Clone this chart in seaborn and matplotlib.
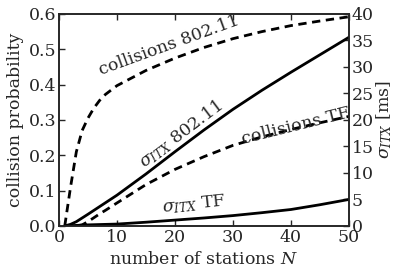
import numpy as np
import pandas as pd
import matplotlib
matplotlib.use("Agg")
import matplotlib.pyplot as plt
import seaborn as sns

# number of stations
n_coll = [1, 2, 3, 4, 5, 6, 7, 8, 10, 15, 20, 25, 30, 35, 40, 45, 50]
coll_80211 = [0.0, 0.11, 0.21, 0.27, 0.305, 0.333, 0.355, 0.372, 0.397, 0.44, 0.475, 0.505, 0.53, 0.55, 0.567, 0.58, 0.592]
coll_tf = [0.0, 0.0, 0.0, 0.003, 0.012, 0.023, 0.034, 0.044, 0.065, 0.117, 0.16, 0.196, 0.228, 0.252, 0.273, 0.292, 0.31]

n_sig = [1, 2, 3, 4, 5, 10, 15, 20, 25, 30, 35, 40, 45, 50]
sig_80211 = [0.0, 0.3, 0.8, 1.5, 2.2, 5.8, 9.8, 14.0, 18.1, 22.0, 25.6, 29.0, 32.3, 35.6]
sig_tf = [0.0, 0.05, 0.1, 0.15, 0.2, 0.35, 0.7, 1.1, 1.5, 1.95, 2.5, 3.1, 4.0, 5.0]

sns.set_style("ticks")
plt.rcParams['font.family'] = ['DejaVu Serif']
plt.rcParams['mathtext.fontset'] = 'dejavuserif'
plt.rcParams['xtick.direction'] = 'in'
plt.rcParams['ytick.direction'] = 'in'
plt.rcParams['xtick.top'] = True
fs = 12.5
plt.rcParams['font.size'] = fs

df_c = pd.DataFrame({'N': n_coll, 'c80211': coll_80211, 'ctf': coll_tf})
df_s = pd.DataFrame({'N': n_sig, 's80211': sig_80211, 'stf': sig_tf})

fig = plt.figure(figsize=(3.93, 2.68), dpi=100)
ax = fig.add_axes([0.150, 0.157, 0.738, 0.791])
ax2 = ax.twinx()

sns.lineplot(data=df_c, x='N', y='c80211', ax=ax, color='black', lw=2)
sns.lineplot(data=df_c, x='N', y='ctf', ax=ax, color='black', lw=2)
sns.lineplot(data=df_s, x='N', y='s80211', ax=ax2, color='black', lw=2)
sns.lineplot(data=df_s, x='N', y='stf', ax=ax2, color='black', lw=2)
for ln in ax.lines:
    ln.set_dashes((3, 2))

ax.set_xlim(0, 50)
ax.set_ylim(0, 0.6)
ax2.set_ylim(0, 40)
ax.set_xticks([0, 10, 20, 30, 40, 50])
ax.set_yticks(np.arange(0, 0.61, 0.1))
ax2.set_yticks(np.arange(0, 41, 5))
ax.set_yticklabels(['0.0', '0.1', '0.2', '0.3', '0.4', '0.5', '0.6'])

ax.set_xlabel('number of stations $N$', fontsize=fs, labelpad=4)
ax.set_ylabel('collision probability', fontsize=fs, labelpad=3)
ax2.set_ylabel(r'$\sigma_{ITX}$ [ms]', fontsize=fs, labelpad=0)

for a in (ax, ax2):
    a.tick_params(direction='in', length=4, width=1, pad=2, labelsize=fs)
    for s in a.spines.values():
        s.set_linewidth(1.2)
        s.set_visible(True)

ax.text(18.9, 0.512, 'collisions 802.11', rotation=20, ha='center', va='center', fontsize=fs)
ax.text(21.0, 0.26, r'$\sigma_{ITX}$ 802.11', rotation=37, ha='center', va='center', fontsize=fs)
ax.text(40.8, 0.283, 'collisions TF', rotation=14, ha='center', va='center', fontsize=fs)
ax.text(23.3, 0.062, r'$\sigma_{ITX}$ TF', rotation=6, ha='center', va='center', fontsize=fs)

fig.savefig('out.png', dpi=100)
